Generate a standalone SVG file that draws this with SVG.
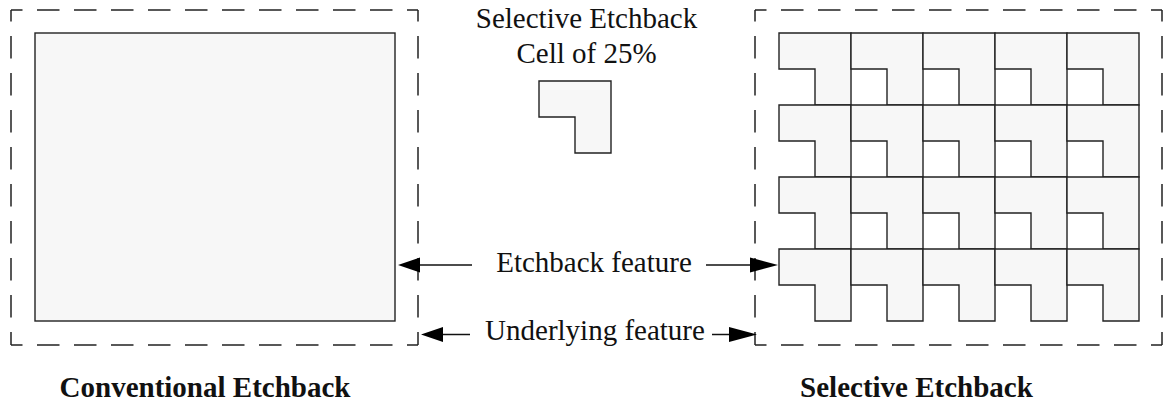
<svg xmlns="http://www.w3.org/2000/svg" xmlns:xlink="http://www.w3.org/1999/xlink" width="1163" height="406" viewBox="0 0 1163 406">
<style>
.dash{stroke:#222;stroke-width:1.5;fill:none;stroke-dasharray:22.5 14.5;stroke-dashoffset:11}
.shape{fill:#f7f7f7;stroke:#222;stroke-width:1.4;stroke-linejoin:miter}
.lbl{font-family:"Liberation Serif","Times New Roman",serif;font-size:29px;fill:#111;text-anchor:middle}
.bold{font-weight:bold}
.conn line{stroke:#111;stroke-width:1.5}
.conn polygon{fill:#000}
</style>
<defs>
<path id="cell" d="M0,0 H72 V72 H36 V36 H0 Z"/>
</defs>
<rect width="1163" height="406" fill="#fff"/>

<g id="conventional-boundary">
<line class="dash" x1="11" y1="10" x2="418" y2="10"/>
<line class="dash" x1="418" y1="10" x2="418" y2="345"/>
<line class="dash" x1="11" y1="345" x2="418" y2="345"/>
<line class="dash" x1="11" y1="10" x2="11" y2="345"/>
</g>
<g id="conventional-feature">
<rect class="shape" x="35" y="33" width="360" height="288"/>
</g>

<g id="selective-boundary">
<line class="dash" x1="755" y1="10" x2="1162" y2="10"/>
<line class="dash" x1="1162" y1="10" x2="1162" y2="345"/>
<line class="dash" x1="755" y1="345" x2="1162" y2="345"/>
<line class="dash" x1="755" y1="10" x2="755" y2="345"/>
</g>
<g id="selective-grid">
<use class="shape" xlink:href="#cell" x="779" y="33"/><use class="shape" xlink:href="#cell" x="851" y="33"/><use class="shape" xlink:href="#cell" x="923" y="33"/><use class="shape" xlink:href="#cell" x="995" y="33"/><use class="shape" xlink:href="#cell" x="1067" y="33"/>
<use class="shape" xlink:href="#cell" x="779" y="105"/><use class="shape" xlink:href="#cell" x="851" y="105"/><use class="shape" xlink:href="#cell" x="923" y="105"/><use class="shape" xlink:href="#cell" x="995" y="105"/><use class="shape" xlink:href="#cell" x="1067" y="105"/>
<use class="shape" xlink:href="#cell" x="779" y="177"/><use class="shape" xlink:href="#cell" x="851" y="177"/><use class="shape" xlink:href="#cell" x="923" y="177"/><use class="shape" xlink:href="#cell" x="995" y="177"/><use class="shape" xlink:href="#cell" x="1067" y="177"/>
<use class="shape" xlink:href="#cell" x="779" y="249"/><use class="shape" xlink:href="#cell" x="851" y="249"/><use class="shape" xlink:href="#cell" x="923" y="249"/><use class="shape" xlink:href="#cell" x="995" y="249"/><use class="shape" xlink:href="#cell" x="1067" y="249"/>
</g>

<g id="cell-sample">
<use class="shape" xlink:href="#cell" x="539" y="81"/>
<text class="lbl" x="586.5" y="28">Selective Etchback</text>
<text class="lbl" x="586.5" y="63">Cell of 25%</text>
</g>

<g id="connectors" class="conn">
<line x1="472" y1="265" x2="418" y2="265"/>
<polygon points="398,265 420,257.5 420,272.5"/>
<line x1="706" y1="265" x2="750" y2="265"/>
<polygon points="778,265 750,257.5 750,272.5"/>
<line x1="470" y1="334.5" x2="440" y2="334.5"/>
<polygon points="421,334.5 443,327 443,342"/>
<line x1="712" y1="334.5" x2="730" y2="334.5"/>
<polygon points="757,334.5 729,327 729,342"/>
</g>

<g id="label-etchback-feature">
<text class="lbl" x="594" y="272">Etchback feature</text>
</g>
<g id="label-underlying-feature">
<text class="lbl" x="595" y="340">Underlying feature</text>
</g>
<g id="label-conventional">
<text class="lbl bold" x="205" y="397">Conventional Etchback</text>
</g>
<g id="label-selective">
<text class="lbl bold" x="916.5" y="397">Selective Etchback</text>
</g>
</svg>
